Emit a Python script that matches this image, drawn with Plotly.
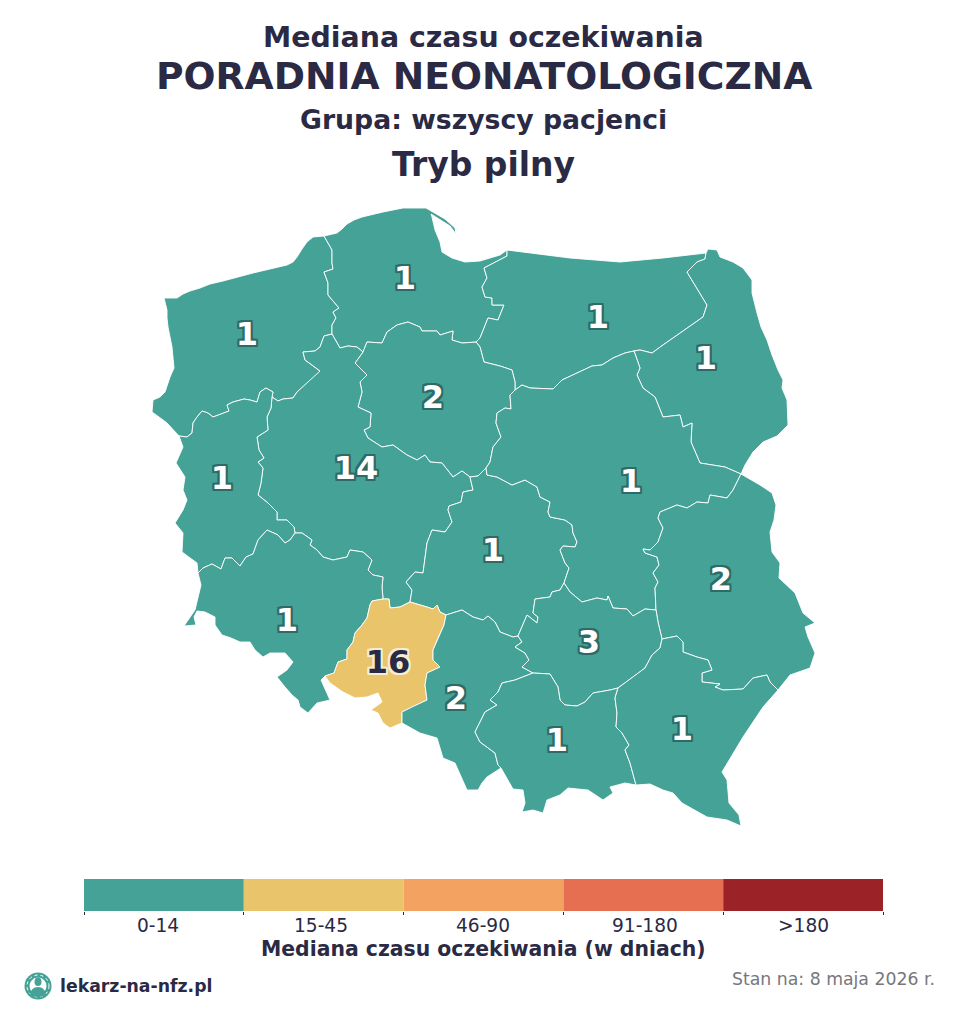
import plotly.graph_objects as go

# Values per voivodeship
regions = ['zachodniopomorskie', 'pomorskie', 'warminsko-mazurskie', 'podlaskie', 'kujawsko-pomorskie',
           'wielkopolskie', 'lubuskie', 'lodzkie', 'mazowieckie', 'lubelskie', 'dolnoslaskie', 'opolskie',
           'slaskie', 'swietokrzyskie', 'malopolskie', 'podkarpackie']
values = [1, 1, 1, 1, 2, 14, 1, 1, 1, 2, 1, 16, 2, 3, 1, 1]
label_x = [247, 405, 598, 706, 433, 356, 222, 493, 631, 721, 287, 388, 456, 589, 557, 682]
label_y = [337, 281, 320, 361, 400, 471, 481, 553, 484, 582, 623, 665, 701, 645, 743, 732]

bin_labels = ['0-14', '15-45', '46-90', '91-180', '>180']
bin_tops = [14, 45, 90, 180, 100000]
bin_colors = ['#45a296', '#e9c46a', '#f4a261', '#e76f51', '#9b2226']
bin_label_x = [158, 321, 483, 645, 803]

DARK = '#2a2a45'

# Border pieces, in page pixels
coast_west = [(179,436),(173,430),(167,423),(159,417),(152,412),(153,400),(160,397),(165,392),(167,385),(170,377),
              (174,368),(173,358),(172,347),(170,337),(168,327),(167,318),(167,310),(164,298),(170,298),(177,298),
              (183,294),(190,291),(200,288),(210,284),(223,281),(237,277),(253,273),(270,269),(280,267),(287,265),
              (293,262),(297,257),(302,249),(307,242),(313,237),(324,236)]
zach_pom = [(324,236),(328,243),(332,250),(332,263),(333,269),(324,272),(328,283),(328,295),(335,303),(339,308),
            (333,312),(336,318),(332,325),(332,334)]
zach_wlkp = [(332,334),(324,336),(320,347),(315,351),(303,352),(305,360),(312,365),(320,371),(313,378),(305,385),
             (297,392),(293,398),(283,399),(278,401),(272,397)]
zach_lub = [(272,397),(273,392),(266,388),(260,392),(257,402),(250,400),(244,399),(233,402),(227,405),(229,411),
            (213,417),(208,413),(202,411),(197,417),(193,423),(192,433),(187,437),(179,436)]
lub_wlkp = [(272,397),(271,408),(267,417),(268,430),(257,437),(259,450),(264,458),(258,462),(263,468),(261,483),
            (258,495),(268,503),(277,512),(277,520),(287,520),(294,527),(295,533)]
lub_dol = [(198,573),(203,568),(212,564),(221,569),(225,558),(232,558),(240,566),(246,557),(253,554),(258,540),
           (267,530),(278,535),(285,543),(290,540),(295,533)]
lub_west = [(179,436),(183,447),(176,463),(185,477),(183,490),(187,500),(183,510),(175,523),(183,533),(182,552),
            (197,563),(198,573)]
dol_south = [(198,573),(201,585),(195,610),(184,626),(196,625),(194,617),(197,611),(205,612),(215,617),(215,625),
             (222,635),(231,638),(240,642),(250,642),(255,650),(263,657),(270,653),(285,653),(293,662),(287,670),
             (277,677),(285,687),(292,695),(298,700),(300,707),(308,713),(317,703),(330,700),(321,680),(325,676)]
opo_dol = [(325,676),(334,673),(338,662),(347,659),(347,650),(353,642),(355,633),(362,625),(367,618),(370,605),
           (372,601),(383,599)]
opo_wlkp = [(383,599),(389,599),(390,608),(400,607),(410,602)]
opo_lodz = [(410,602),(427,607),(433,609),(437,605),(440,612),(446,615)]
opo_sl = [(446,615),(444,625),(438,638),(433,650),(433,660),(440,667),(427,673),(425,685),(427,700),(412,707),
          (402,712),(402,723)]
opo_south = [(402,723),(390,728),(383,723),(378,713),(371,710),(382,702),(378,693),(367,697),(355,698),(343,692),
             (330,683),(325,676)]
wlkp_dol = [(383,599),(382,587),(383,577),(373,575),(368,570),(372,560),(363,552),(350,550),(347,557),(333,560),
            (323,557),(317,550),(310,545),(312,540),(302,533),(295,533)]
wlkp_lodz = [(410,602),(412,590),(406,582),(415,572),(423,573),(427,543),(432,530),(445,532),(452,522),(448,510),
             (449,506),(461,502),(463,492),(473,490),(470,477)]
wlkp_kuj = [(363,352),(355,363),(367,375),(360,382),(362,392),(358,407),(371,413),(370,427),(364,430),(368,438),
            (382,447),(393,445),(407,455),(417,460),(425,455),(430,462),(442,463),(453,477),(462,471),(470,477)]
wlkp_pom = [(332,334),(340,348),(348,346),(357,347),(363,352)]
pom_kuj = [(363,352),(367,342),(382,343),(387,332),(397,325),(408,322),(420,327),(422,331),(437,331),(440,335),
           (453,331),(452,340),(462,343),(477,342)]
pom_warm = [(507,250),(507,256),(484,268),(487,278),(482,287),(485,297),(492,298),(492,305),(504,305),(498,320),
            (488,318),(480,338),(476,342)]
kuj_warm = [(476,342),(480,347),(484,362),(500,366),(512,370),(515,382),(515,390)]
warm_maz = [(515,390),(522,385),(530,388),(553,389),(562,380),(577,373),(592,366),(602,365),(613,358),(625,353),
            (634,351)]
warm_podl = [(634,351),(640,350),(652,353),(663,345),(687,328),(703,317),(707,305),(697,288),(687,272),(697,262),
             (705,259),(706,253)]
maz_podl = [(634,351),(640,368),(637,375),(643,388),(655,397),(663,417),(680,415),(683,427),(692,423),(691,442),
            (700,463),(725,467),(741,474)]
podl_east = [(706,253),(708,249),(717,250),(720,257),(733,262),(743,268),(752,280),(752,293),(757,313),(761,327),
             (767,340),(772,355),(778,370),(783,380),(782,388),(787,400),(788,425),(777,436),(763,442),(753,452),
             (745,465),(741,474)]
warm_north = [(507,250),(538,254),(570,258),(595,260),(620,262),(663,258),(706,253)]
pom_coast = [(324,236),(337,233),(342,229),(347,224),(354,220),(362,217),(383,212),(403,208),(426,208),(445,219),
             (455,228),(456,234),(450,226),(440,220),(431,214),(432,217),(435,230),(440,242),(442,252),(452,258),
             (465,262),(480,261),(487,259),(500,255),(507,250)]
maz_lub = [(741,474),(733,490),(727,498),(710,495),(708,503),(697,502),(687,508),(677,505),(660,512),(658,518),
           (663,528),(658,542),(650,550),(643,549),(645,553),(657,557),(659,565),(653,573),(658,582),(655,588),
           (656,610)]
lub_swie = [(656,610),(658,622),(662,639)]
maz_swie = [(564,583),(570,592),(582,602),(597,598),(607,600),(608,596),(613,608),(627,609),(633,616),(645,609),
            (656,610)]
maz_lodz = [(486,468),(487,475),(497,477),(512,485),(525,480),(537,487),(540,497),(550,502),(548,512),(550,517),
            (565,520),(572,525),(573,533),(577,542),(575,547),(563,546),(560,550),(565,563),(569,568),(565,580),
            (564,583)]
kuj_maz = [(515,390),(510,395),(511,409),(505,408),(497,413),(496,423),(501,437),(493,447),(490,462),(486,468)]
kuj_lodz = [(470,477),(478,476),(486,468)]
lodz_sl = [(446,615),(462,610),(473,617),(483,620),(488,616),(495,622),(500,632),(513,637),(518,636)]
lodz_swie = [(564,583),(560,590),(552,592),(550,597),(535,599),(533,613),(538,617),(537,623),(527,615),(518,636)]
sl_swie = [(518,636),(522,642),(515,647),(525,653),(529,660),(522,667),(533,673)]
mal_swie = [(533,673),(550,674),(558,687),(560,700),(565,705),(577,706),(585,702),(593,693),(610,690),(618,688)]
podk_swie = [(618,688),(633,677),(645,668),(652,655),(660,648),(662,639)]
lub_podk = [(662,639),(677,636),(683,642),(683,652),(697,657),(708,660),(712,670),(702,673),(702,682),(720,684),
            (715,687),(723,690),(743,689),(753,678),(767,675),(770,682),(778,690)]
lub_east = [(741,474),(760,485),(772,493),(776,505),(774,520),(770,532),(772,552),(780,563),(779,578),(795,593),
            (803,613),(815,623),(805,627),(808,637),(815,653),(810,668),(790,675),(778,690)]
podk_south = [(778,690),(763,707),(743,737),(722,772),(727,780),(729,803),(739,815),(741,826),(727,820),(707,817),
              (682,803),(673,793),(663,790),(650,784),(636,785)]
mal_podk = [(636,785),(630,763),(625,750),(629,745),(622,733),(616,727),(617,713),(615,698),(618,688)]
mal_south = [(636,785),(625,783),(610,787),(613,793),(603,800),(588,790),(568,788),(560,795),(547,800),(543,813),
             (533,810),(522,812),(525,803),(523,790),(513,789),(501,768)]
sl_mal = [(533,673),(515,680),(502,683),(498,692),(490,700),(497,705),(485,712),(475,732),(480,742),(495,753),
          (498,765),(501,768)]
sl_south = [(501,768),(487,777),(482,783),(478,790),(467,790),(455,763),(443,758),(437,738),(420,733),(402,723)]


def ring(*pieces):
    pts = []
    for p in pieces:
        pts += p
    return pts


def rev(p):
    return p[::-1]


outlines = [
    ring(coast_west, zach_pom, zach_wlkp, zach_lub),
    ring(pom_coast, pom_warm, rev(pom_kuj), rev(wlkp_pom), rev(zach_pom)),
    ring(warm_north, rev(warm_podl), rev(warm_maz), rev(kuj_warm), rev(pom_warm)),
    ring(podl_east, rev(maz_podl), warm_podl),
    ring(pom_kuj, kuj_warm, kuj_maz, rev(kuj_lodz), rev(wlkp_kuj)),
    ring(wlkp_pom, wlkp_kuj, rev(wlkp_lodz), rev(opo_wlkp), wlkp_dol, rev(lub_wlkp), rev(zach_wlkp)),
    ring(lub_wlkp, rev(lub_dol), rev(lub_west), rev(zach_lub)),
    ring(kuj_lodz, maz_lodz, lodz_swie, rev(lodz_sl), rev(opo_lodz), wlkp_lodz),
    ring(warm_maz, maz_podl, maz_lub, rev(maz_swie), rev(maz_lodz), rev(kuj_maz)),
    ring(lub_east, rev(lub_podk), rev(lub_swie), rev(maz_lub)),
    ring(lub_dol, rev(wlkp_dol), rev(opo_dol), rev(dol_south)),
    ring(opo_dol, opo_wlkp, opo_lodz, opo_sl, opo_south),
    ring(lodz_sl, sl_swie, sl_mal, sl_south, rev(opo_sl)),
    ring(maz_swie, lub_swie, rev(podk_swie), rev(mal_swie), rev(sl_swie), rev(lodz_swie)),
    ring(mal_swie, rev(mal_podk), mal_south, rev(sl_mal)),
    ring(podk_swie, lub_podk, podk_south, mal_podk),
]


def bin_color(v):
    for top, c in zip(bin_tops, bin_colors):
        if v <= top:
            return c
    return bin_colors[-1]


def outline(color, r=2):
    return ', '.join(f'{dx}px {dy}px 0 {color}' for dx in (-r, 0, r) for dy in (-r, 0, r) if dx or dy)


fig = go.Figure()

for name, v, pts in zip(regions, values, outlines):
    fig.add_trace(go.Scatter(
        x=[p[0] for p in pts], y=[p[1] for p in pts], name=name,
        mode='lines', fill='toself', fillcolor=bin_color(v),
        line=dict(color='white', width=0.9), hoverinfo='skip',
    ))

for name, v, lx, ly in zip(regions, values, label_x, label_y):
    light_bin = v > 14
    fig.add_trace(go.Scatter(
        x=[lx], y=[ly], text=[str(v)], mode='text', textposition='middle center', name=name,
        textfont=dict(family='DejaVu Sans', size=32, weight='bold',
                      color=DARK if light_bin else 'white',
                      shadow=outline('#f5edd0' if light_bin else '#2f6b66')),
        hoverinfo='skip',
    ))

# Legend strip
fig.add_trace(go.Bar(
    x=[0.5, 1.5, 2.5, 3.5, 4.5], y=[1, 1, 1, 1, 1], width=1, xaxis='x2', yaxis='y2',
    marker=dict(color=bin_colors, line=dict(width=0)), hoverinfo='skip',
))

annotations = []


def add_text(x, y, text, size, bold=False, color=DARK, anchor='center'):
    annotations.append(dict(
        x=x, y=y, xref='x', yref='y', text=text, showarrow=False, xanchor=anchor, yanchor='middle',
        font=dict(family='DejaVu Sans', size=size, color=color, weight='bold' if bold else 'normal'),
    ))


add_text(483.5, 37, 'Mediana czasu oczekiwania', 28.4, True)
add_text(483.5, 76, 'PORADNIA NEONATOLOGICZNA', 37.65, True)
add_text(483.5, 119, 'Grupa: wszyscy pacjenci', 26.7, True)
add_text(483.5, 164, 'Tryb pilny', 33, True)
for lab, lx in zip(bin_labels, bin_label_x):
    add_text(lx, 925, lab, 18.6)
add_text(483.5, 949, 'Mediana czasu oczekiwania (w dniach)', 20.4, True)
add_text(58, 986, 'lekarz-na-nfz.pl', 17.3, True, anchor='left')
add_text(937, 979, 'Stan na: 8 maja 2026 r.', 17.3, color='#77777c', anchor='right')

# Small round logo next to the site name
LOGO = '#45a296'
shapes = [
    dict(type='circle', x0=24.5, y0=972.5, x1=51.5, y1=999.5, fillcolor=LOGO, line=dict(width=0)),
    dict(type='circle', x0=27, y0=975, x1=49, y1=997, fillcolor='rgba(0,0,0,0)',
         line=dict(color='white', width=1, dash='dot')),
    dict(type='circle', x0=29.5, y0=977.5, x1=46.5, y1=994.5, fillcolor='white', line=dict(width=0)),
    dict(type='circle', x0=34.5, y0=977.5, x1=41.5, y1=986, fillcolor=LOGO, line=dict(width=0)),
    dict(type='path', path='M30 995 Q31 987 38 987 Q45 987 46 995 Q38 999 30 995 Z', fillcolor=LOGO, line=dict(width=0)),
]

fig.update_layout(
    width=960, height=1025, margin=dict(l=0, r=0, t=0, b=0),
    paper_bgcolor='white', plot_bgcolor='white', showlegend=False,
    xaxis=dict(range=[0, 960], visible=False, fixedrange=True),
    yaxis=dict(range=[1025, 0], visible=False, fixedrange=True),
    xaxis2=dict(domain=[84 / 960, 883 / 960], anchor='y2', range=[0, 5], tickmode='array',
                tickvals=[0, 1, 2, 3, 4, 5], ticks='outside', ticklen=3, tickcolor=DARK, tickwidth=1,
                showticklabels=False, showgrid=False, zeroline=False, showline=False),
    yaxis2=dict(domain=[1 - 911 / 1025, 1 - 879 / 1025], anchor='x2', range=[0, 1], visible=False),
    annotations=annotations, shapes=shapes,
)

fig.write_html("out.html", config={'displayModeBar': False}, post_script="document.body.style.margin='0';")
